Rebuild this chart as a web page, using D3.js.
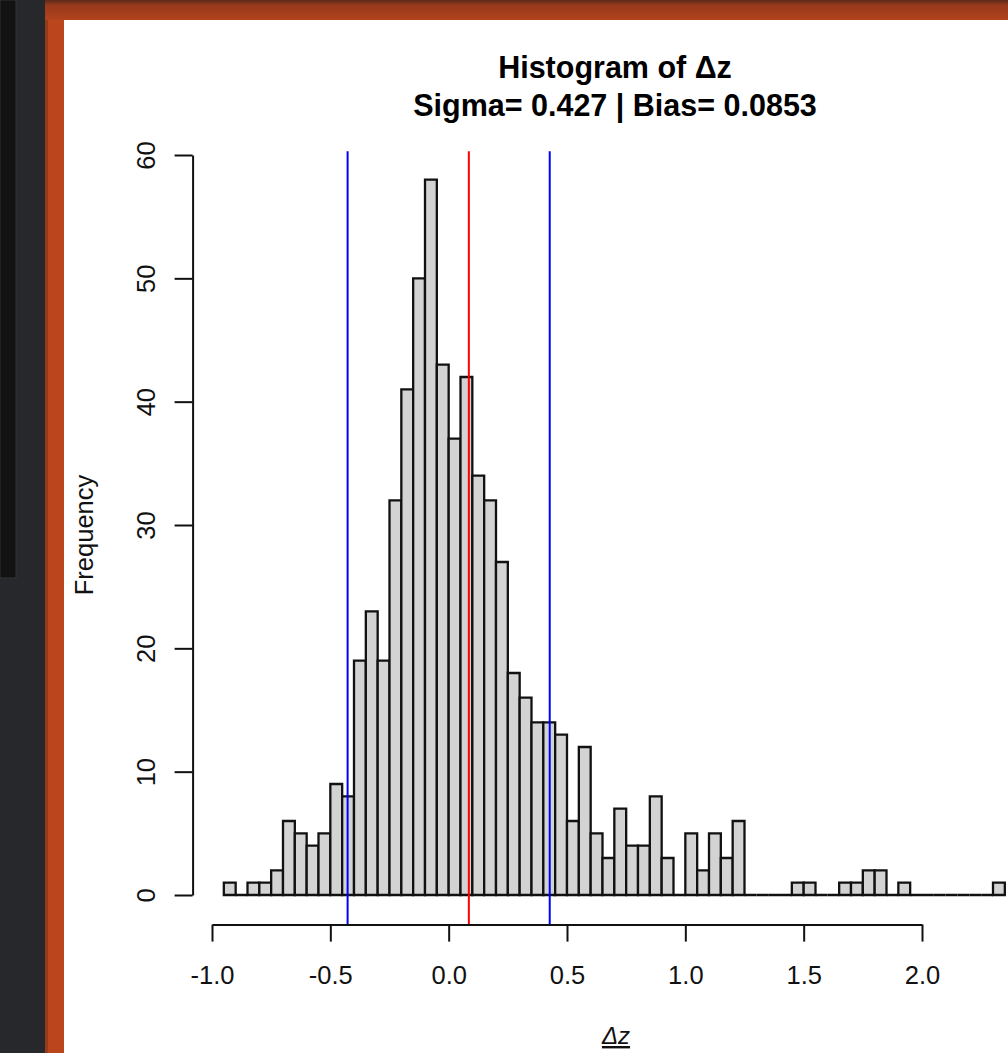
<!DOCTYPE html>
<html>
<head>
<meta charset="utf-8">
<script src="https://cdnjs.cloudflare.com/ajax/libs/d3/7.8.5/d3.min.js"></script>
<style>
  body { margin: 0; background: #262729; }
  svg { display: block; }
  text { font-family: "Liberation Sans", Arial, sans-serif; }
</style>
</head>
<body>
<div id="hist"></div>
<script>
// Histogram breaks (bin edges of dz) and counts per bin
var breaks = [
  -0.95, -0.90, -0.85, -0.80, -0.75, -0.70, -0.65, -0.60, -0.55, -0.50,
  -0.45, -0.40, -0.35, -0.30, -0.25, -0.20, -0.15, -0.10, -0.05, 0.00,
  0.05, 0.10, 0.15, 0.20, 0.25, 0.30, 0.35, 0.40, 0.45, 0.50,
  0.55, 0.60, 0.65, 0.70, 0.75, 0.80, 0.85, 0.90, 0.95, 1.00,
  1.05, 1.10, 1.15, 1.20, 1.25, 1.30, 1.35, 1.40, 1.45, 1.50,
  1.55, 1.60, 1.65, 1.70, 1.75, 1.80, 1.85, 1.90, 1.95, 2.00,
  2.05, 2.10, 2.15, 2.20, 2.25, 2.30, 2.35
];
var counts = [
  1, 0, 1, 1, 2, 6, 5, 4, 5, 9,
  8, 19, 23, 19, 32, 41, 50, 58, 43, 37,
  42, 34, 32, 27, 18, 16, 14, 14, 13, 6,
  12, 5, 3, 7, 4, 4, 8, 3, 0, 5,
  2, 5, 3, 6, 0, 0, 0, 0, 1, 1,
  0, 0, 1, 1, 2, 2, 0, 1, 0, 0,
  0, 0, 0, 0, 0, 1
];

// vertical reference lines
var sigmaLines = [-0.427, 0.427];
var biasLines = [0.0853];

// ticks and labels
var xTicks = [-1.0, -0.5, 0.0, 0.5, 1.0, 1.5, 2.0];
var yTicks = [0, 10, 20, 30, 40, 50, 60];
var titleLines = ["Histogram of \u0394z", "Sigma= 0.427 | Bias= 0.0853"];
var xLabel = "\u0394z";
var yLabel = "Frequency";

var svgWidth = 1008;
var svgHeight = 1053;

var svg = d3.select("#hist")
  .append("svg")
  .attr("width", svgWidth)
  .attr("height", svgHeight);

// window frame around the plot (dark desktop + orange border)
var defs = svg.append("defs");
var topGrad = defs.append("linearGradient")
  .attr("id", "topGrad")
  .attr("x1", 0).attr("y1", 0).attr("x2", 0).attr("y2", 1);
topGrad.append("stop").attr("offset", "0%").attr("stop-color", "#5a2a1a");
topGrad.append("stop").attr("offset", "25%").attr("stop-color", "#96391b");
topGrad.append("stop").attr("offset", "100%").attr("stop-color", "#b2431d");

svg.append("rect")
  .attr("width", svgWidth).attr("height", svgHeight)
  .attr("fill", "#27282b");
svg.append("rect")
  .attr("x", 0).attr("y", 0).attr("width", 16).attr("height", 578)
  .attr("fill", "#121212")
  .attr("stroke", "#333").attr("stroke-width", 1);
svg.append("rect")
  .attr("x", 45).attr("y", 0).attr("width", 19).attr("height", svgHeight)
  .attr("fill", "#bb461e");
svg.append("rect")
  .attr("x", 45).attr("y", 0).attr("width", 3).attr("height", svgHeight)
  .attr("fill", "#973a1a");
svg.append("rect")
  .attr("x", 45).attr("y", 0).attr("width", svgWidth - 45).attr("height", 20)
  .attr("fill", "url(#topGrad)");
svg.append("rect")
  .attr("x", 64).attr("y", 20).attr("width", svgWidth - 64).attr("height", svgHeight - 20)
  .attr("fill", "#ffffff");

// Scale functions
var xScale = d3.scaleLinear()
  .domain([-1, 2])
  .range([212, 922]);
var yScale = d3.scaleLinear()
  .domain([0, 60])
  .range([895, 155]);

var plotLeft = xScale(-1.082);
var plotBottom = yScale(-2.4);

var bins = counts.map(function(c, i) {
  return { x0: breaks[i], x1: breaks[i + 1], count: c };
});

// Bars (paths so that empty bins still show their base line)
svg.append("g")
  .selectAll("path")
  .data(bins)
  .enter()
  .append("path")
  .attr("d", function(d) {
    var l = xScale(d.x0), r = xScale(d.x1);
    var b = yScale(0), t = yScale(d.count);
    return "M" + l + "," + b + "L" + l + "," + t + "L" + r + "," + t + "L" + r + "," + b + "Z";
  })
  .attr("fill", "#d3d3d3")
  .attr("stroke", "#111")
  .attr("stroke-width", 2.3)
  .attr("stroke-linejoin", "miter");

// Sigma and bias lines
svg.append("g")
  .selectAll("line")
  .data(sigmaLines)
  .enter()
  .append("line")
  .attr("x1", d => xScale(d)).attr("x2", d => xScale(d))
  .attr("y1", yScale(60.3)).attr("y2", plotBottom)
  .attr("stroke", "#0000ff")
  .attr("stroke-width", 2);
svg.append("g")
  .selectAll("line")
  .data(biasLines)
  .enter()
  .append("line")
  .attr("x1", d => xScale(d)).attr("x2", d => xScale(d))
  .attr("y1", yScale(60.3)).attr("y2", plotBottom)
  .attr("stroke", "#ff0000")
  .attr("stroke-width", 2);

// Axes
var bottomAxis = d3.axisBottom(xScale)
  .tickValues(xTicks)
  .tickFormat(d => d.toFixed(1))
  .tickSize(17)
  .tickSizeOuter(0)
  .tickPadding(24);
var leftAxis = d3.axisLeft(yScale)
  .tickValues(yTicks)
  .tickFormat(d => String(d))
  .tickSize(18)
  .tickSizeOuter(0);

var xAxisG = svg.append("g")
  .attr("transform", `translate(0,${plotBottom})`)
  .call(bottomAxis);
xAxisG.attr("font-size", 25.5).attr("font-family", "Liberation Sans, Arial, sans-serif");
xAxisG.selectAll("path, line").attr("stroke", "#111").attr("stroke-width", 2);
xAxisG.selectAll("text").attr("fill", "#111");

var yAxisG = svg.append("g")
  .attr("transform", `translate(${plotLeft},0)`)
  .call(leftAxis);
yAxisG.attr("font-size", 25.5).attr("font-family", "Liberation Sans, Arial, sans-serif");
yAxisG.selectAll("path, line").attr("stroke", "#111").attr("stroke-width", 2);
yAxisG.selectAll("text")
  .attr("transform", "rotate(-90)")
  .attr("x", 0)
  .attr("y", -37.5)
  .attr("dy", null)
  .attr("text-anchor", "middle")
  .attr("fill", "#111");

// Title
svg.append("g")
  .selectAll("text")
  .data(titleLines)
  .enter()
  .append("text")
  .attr("x", 615)
  .attr("y", (d, i) => 78 + i * 38)
  .attr("text-anchor", "middle")
  .attr("font-size", 30.5)
  .attr("font-weight", "bold")
  .attr("fill", "#000")
  .text(d => d);

// Labels
svg.append("text")
  .attr("transform", "translate(93,535) rotate(-90)")
  .attr("text-anchor", "middle")
  .attr("font-size", 25.5)
  .attr("fill", "#111")
  .text(yLabel);

svg.append("text")
  .attr("x", 616)
  .attr("y", 1044)
  .attr("text-anchor", "middle")
  .attr("font-size", 24)
  .attr("font-style", "italic")
  .attr("text-decoration", "underline")
  .attr("fill", "#111")
  .text(xLabel);
</script>
</body>
</html>
